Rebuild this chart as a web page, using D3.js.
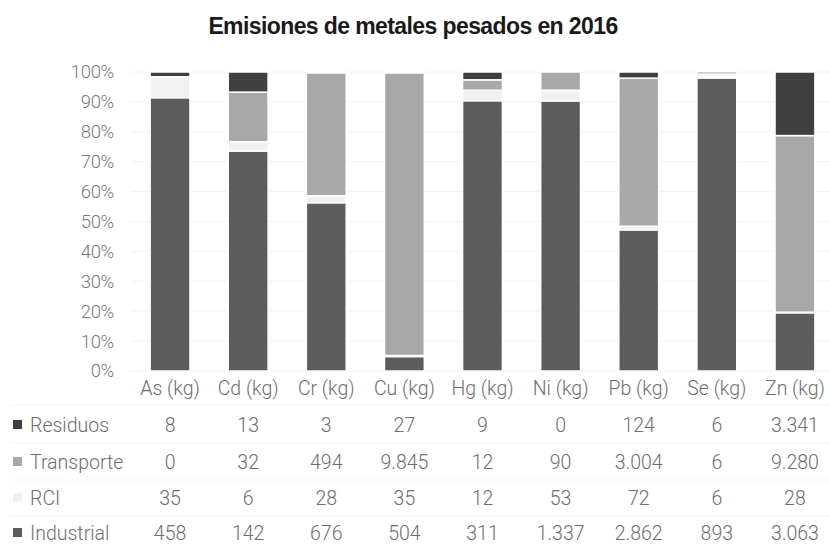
<!DOCTYPE html>
<html>
<head>
<meta charset="utf-8">
<script src="https://cdn.jsdelivr.net/npm/d3@7"></script>
<style>
  body { margin: 0; background: #fff; }
  text { font-family: Roboto, "Liberation Sans", sans-serif; }
</style>
</head>
<body>
<script>
// chart data
let categories = ["As (kg)", "Cd (kg)", "Cr (kg)", "Cu (kg)", "Hg (kg)", "Ni (kg)", "Pb (kg)", "Se (kg)", "Zn (kg)"];
let seriesNames = ["Industrial", "RCI", "Transporte", "Residuos"]; // bottom to top
let industrial = [458, 142, 676, 504, 311, 1337, 2862, 893, 3063];
let rci = [35, 6, 28, 35, 12, 53, 72, 6, 28];
let transporte = [0, 32, 494, 9845, 12, 90, 3004, 6, 9280];
let residuos = [8, 13, 3, 27, 9, 0, 124, 6, 3341];
let yTicks = [0, 0.1, 0.2, 0.3, 0.4, 0.5, 0.6, 0.7, 0.8, 0.9, 1];

let colors = {Industrial: "#5c5c5c", RCI: "#f1f1f1", Transporte: "#a8a8a8", Residuos: "#3f3f3f"};
let seriesValues = {Industrial: industrial, RCI: rci, Transporte: transporte, Residuos: residuos};

let width = 830, height = 547;

let svg = d3.select("body").append("svg")
    .attr("width", width)
    .attr("height", height);

// spanish number format: 9.845
let es = d3.formatLocale({decimal: ",", thousands: ".", grouping: [3], currency: ["", " €"]});
let fmt = es.format(",d");

// scales
let xScale = d3.scaleBand().domain(categories).range([131, 834]).paddingInner(0.49).paddingOuter(0.245);
let yScale = d3.scaleLinear().domain([0, 1]).range([371, 72]);

// build 100% stacked rows
let rows = categories.map(function(c, i) {
  let row = {cat: c};
  let total = 0;
  seriesNames.forEach(function(s) { total += seriesValues[s][i]; });
  seriesNames.forEach(function(s) { row[s] = seriesValues[s][i] / total; });
  return row;
});
let stacked = d3.stack().keys(seriesNames)(rows);

let textColor = "#6e6e6e";
let textSize = "19.5px";

// title
svg.append("text")
    .attr("x", 413)
    .attr("y", 34)
    .attr("text-anchor", "middle")
    .style("font-family", "'Liberation Sans', Arial, sans-serif")
    .style("font-weight", "bold")
    .style("font-size", "23px")
    .style("letter-spacing", "-0.6px")
    .style("fill", "#1a1a1a")
    .text("Emisiones de metales pesados en 2016");

// faint gridlines
svg.append("g").selectAll("line")
    .data(yTicks)
  .enter().append("line")
    .attr("x1", 131).attr("x2", 830)
    .attr("y1", function(d) { return yScale(d); })
    .attr("y2", function(d) { return yScale(d); })
    .attr("stroke", "#f4f4f4")
    .attr("stroke-width", 1);

// y axis labels
let yAxis = svg.append("g")
    .attr("transform", "translate(117,0)")
    .call(d3.axisLeft(yScale).tickValues(yTicks).tickSize(0).tickFormat(d3.format(".0%")));
yAxis.select(".domain").remove();
yAxis.selectAll("text")
    .style("font-family", "Roboto, sans-serif")
    .style("font-weight", "300")
    .style("font-size", "18.5px")
    .style("letter-spacing", "-0.3px")
    .style("fill", "#7a7a7a");

// bars
svg.append("g").selectAll("g")
    .data(stacked)
  .enter().append("g")
    .attr("fill", function(d) { return colors[d.key]; })
  .selectAll("rect")
    .data(function(d) { return d; })
  .enter().append("rect")
    .attr("x", function(d) { return xScale(d.data.cat); })
    .attr("width", xScale.bandwidth())
    .attr("y", function(d) { return yScale(d[1]); })
    .attr("height", function(d) { return Math.max(0, yScale(d[0]) - yScale(d[1])); })
    .attr("stroke", "#ffffff")
    .attr("stroke-width", 1.5);

// data table
let headerY = 388;
let rowY = {Residuos: 425, Transporte: 462, RCI: 498, Industrial: 533};
let tableOrder = ["Residuos", "Transporte", "RCI", "Industrial"];

// faint table lines
svg.append("g").selectAll("line")
    .data([405, 443, 480, 516])
  .enter().append("line")
    .attr("x1", 10).attr("x2", 830)
    .attr("y1", function(d) { return d; })
    .attr("y2", function(d) { return d; })
    .attr("stroke", "#f7f7f7");

svg.append("g").selectAll("text")
    .data(categories)
  .enter().append("text")
    .attr("x", function(d) { return xScale(d) + xScale.bandwidth() / 2; })
    .attr("y", headerY)
    .attr("dy", "0.35em")
    .attr("text-anchor", "middle")
    .style("font-weight", "300")
    .style("font-size", textSize)
    .style("fill", textColor)
    .text(function(d) { return d; });

tableOrder.forEach(function(s) {
  let g = svg.append("g");
  // legend key
  g.append("rect")
      .attr("x", 13).attr("y", rowY[s] - 5)
      .attr("width", 9).attr("height", 9)
      .attr("fill", colors[s]);
  g.append("text")
      .attr("x", 30)
      .attr("y", rowY[s])
      .attr("dy", "0.35em")
      .style("font-weight", "300")
      .style("font-size", textSize)
      .style("fill", textColor)
      .text(s);
  g.selectAll(".val")
      .data(seriesValues[s])
    .enter().append("text")
      .attr("class", "val")
      .attr("x", function(d, i) { return xScale(categories[i]) + xScale.bandwidth() / 2; })
      .attr("y", rowY[s])
      .attr("dy", "0.35em")
      .attr("text-anchor", "middle")
      .style("font-weight", "300")
      .style("font-size", textSize)
      .style("fill", textColor)
      .text(function(d) { return fmt(d); });
});
</script>
</body>
</html>
